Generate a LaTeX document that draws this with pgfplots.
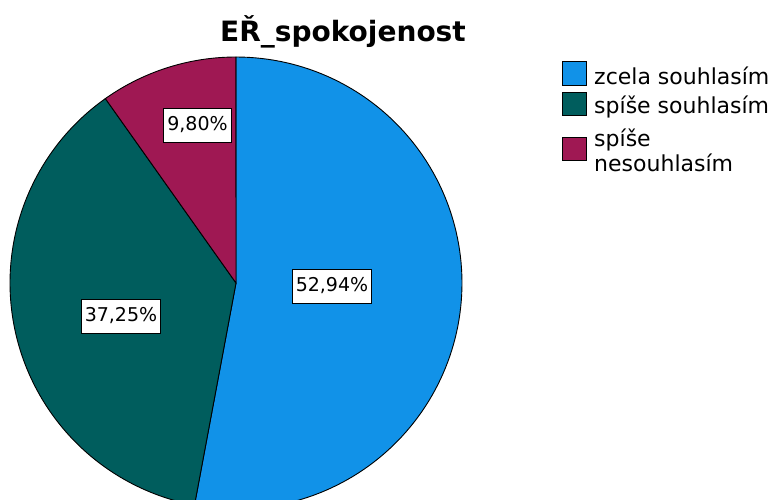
\documentclass[border=0pt]{standalone}
\usepackage{fontspec}
\setmainfont{DejaVu Sans}
\usepackage{pgfplots}
\usepackage{pgfplotstable}
\pgfplotsset{compat=1.18}
\definecolor{spssblue}{HTML}{1192E8}
\definecolor{spssteal}{HTML}{005D5D}
\definecolor{spssmaroon}{HTML}{9F1853}

% shares in percent, clockwise from 12 o'clock
\pgfplotstableread{
share
52.94
37.25
9.80
}\piedata
\pgfplotstablegetelem{0}{share}\of\piedata \let\va\pgfplotsretval
\pgfplotstablegetelem{1}{share}\of\piedata \let\vb\pgfplotsretval
\pgfplotstablegetelem{2}{share}\of\piedata \let\vc\pgfplotsretval
\pgfmathsetmacro\aA{90}
\pgfmathsetmacro\aB{\aA-3.6*\va}
\pgfmathsetmacro\aC{\aB-3.6*\vb}
\pgfmathsetmacro\aD{\aC-3.6*\vc}

\begin{document}
\begin{tikzpicture}
\begin{axis}[
  width=777pt, height=499pt, scale only axis,
  xmin=0, xmax=777, ymin=0, ymax=499,
  axis lines=none, ticks=none, clip=true,
]
% slices (centre 236,216; radius 226)
\addplot[fill=spssblue, draw=black, line width=0.9pt, domain=\aB:\aA, samples=120, variable=\t]
  ({236+226*cos(\t)}, {216+226*sin(\t)}) -- (axis cs:236,216) -- cycle;
\addplot[fill=spssteal, draw=black, line width=0.9pt, domain=\aC:\aB, samples=120, variable=\t]
  ({236+226*cos(\t)}, {216+226*sin(\t)}) -- (axis cs:236,216) -- cycle;
\addplot[fill=spssmaroon, draw=black, line width=0.9pt, domain=\aD:\aC, samples=60, variable=\t]
  ({236+226*cos(\t)}, {216+226*sin(\t)}) -- (axis cs:236,216) -- cycle;

% value labels
\tikzset{vlab/.style={draw=black, line width=0.9pt, fill=white, inner xsep=3.5pt,
  minimum height=34pt, font=\fontsize{19}{22}\selectfont}}
\node[vlab] at (axis cs:332,213) {52,94\%};
\node[vlab] at (axis cs:121,183) {37,25\%};
\node[vlab] at (axis cs:197.5,374) {9,80\%};

% title
\node[anchor=base, font=\fontsize{28}{32}\selectfont\bfseries] at (axis cs:343,457.3) {EŘ\_spokojenost};

% legend
\draw[fill=spssblue, line width=1pt] (axis cs:562,413) rectangle (axis cs:586,437);
\draw[fill=spssteal, line width=1pt] (axis cs:562,383) rectangle (axis cs:586,406.5);
\draw[fill=spssmaroon, line width=1pt] (axis cs:562,338) rectangle (axis cs:586,361.5);
\tikzset{llab/.style={anchor=base west, inner sep=0pt, font=\fontsize{22}{25}\selectfont}}
\node[llab] at (axis cs:594,414.5) {zcela souhlasím};
\node[llab] at (axis cs:594,385.5) {spíše souhlasím};
\node[llab] at (axis cs:594,352) {spíše};
\node[llab] at (axis cs:594,327) {nesouhlasím};
\end{axis}
\pgfresetboundingbox
\useasboundingbox (current axis.south west) rectangle (current axis.north east);
\end{tikzpicture}
\end{document}
